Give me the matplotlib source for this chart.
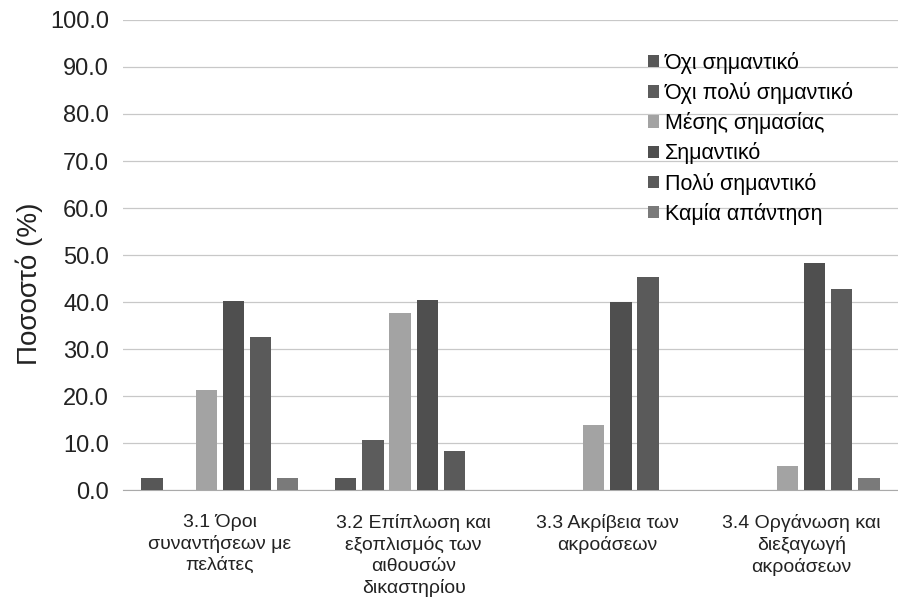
import numpy as np
import matplotlib.pyplot as plt

plt.rcParams['font.family'] = ['Liberation Sans', 'DejaVu Sans']

# question groups (x axis)
groups = ['3.1 Όροι\nσυναντήσεων με\nπελάτες',
          '3.2 Επίπλωση και\nεξοπλισμός των\nαιθουσών\nδικαστηρίου',
          '3.3 Ακρίβεια των\nακροάσεων',
          '3.4 Οργάνωση και\nδιεξαγωγή\nακροάσεων']

# answer categories (series)
series = ['Όχι σημαντικό', 'Όχι πολύ σημαντικό', 'Μέσης σημασίας',
          'Σημαντικό', 'Πολύ σημαντικό', 'Καμία απάντηση']

# percentages per series, one value per group
oxi_simantiko = [2.5, 2.5, 0.0, 0.0]
oxi_poly = [0.0, 10.7, 0.0, 0.0]
mesis = [21.3, 37.6, 13.8, 5.1]
simantiko = [40.3, 40.4, 40.0, 48.3]
poly_simantiko = [32.5, 8.3, 45.3, 42.8]
kamia = [2.5, 0.0, 0.0, 2.6]

values = [oxi_simantiko, oxi_poly, mesis, simantiko, poly_simantiko, kamia]
colors = ['#575757', '#5c5c5c', '#a3a3a3', '#4f4f4f', '#5a5a5a', '#7a7a7a']

fig = plt.figure(figsize=(8.98, 6.03), dpi=100)
ax = fig.add_axes([0.137, 0.187, 0.863, 0.78])

x = np.arange(len(groups))
step = 0.14
width = 0.11
for i, (name, vals) in enumerate(zip(series, values)):
    ax.bar(x + (i - 2.5) * step, vals, width, color=colors[i], label=name, zorder=3)

ax.set_xlim(-0.5, 3.5)
ax.set_ylim(0, 100)
ax.set_yticks(np.arange(0, 101, 10))
ax.set_yticklabels([f'{v:.1f}' for v in np.arange(0, 101, 10)], fontsize=17)
ax.set_xticks(x)
ax.set_xticklabels(groups, fontsize=14, linespacing=1.3)
ax.tick_params(axis='both', length=0, colors='#222222')
ax.tick_params(axis='y', pad=10)
ax.tick_params(axis='x', pad=17)
ax.grid(axis='y', color='#c8c8c8', linewidth=0.9, zorder=0)
for s in ['top', 'right', 'left']:
    ax.spines[s].set_visible(False)
ax.spines['bottom'].set_color('#aaaaaa')
ax.set_ylabel('Ποσοστό (%)', fontsize=20, color='#222222')
ax.yaxis.set_label_coords(-0.103, 0.44)

fig.legend(loc='upper left', bbox_to_anchor=(0.722, 0.914), frameon=False,
           fontsize=15.5, handlelength=0.5, handleheight=0.5, handletextpad=0.25,
           labelspacing=0.38, borderpad=0, borderaxespad=0)

plt.savefig('out.png', dpi=100)
